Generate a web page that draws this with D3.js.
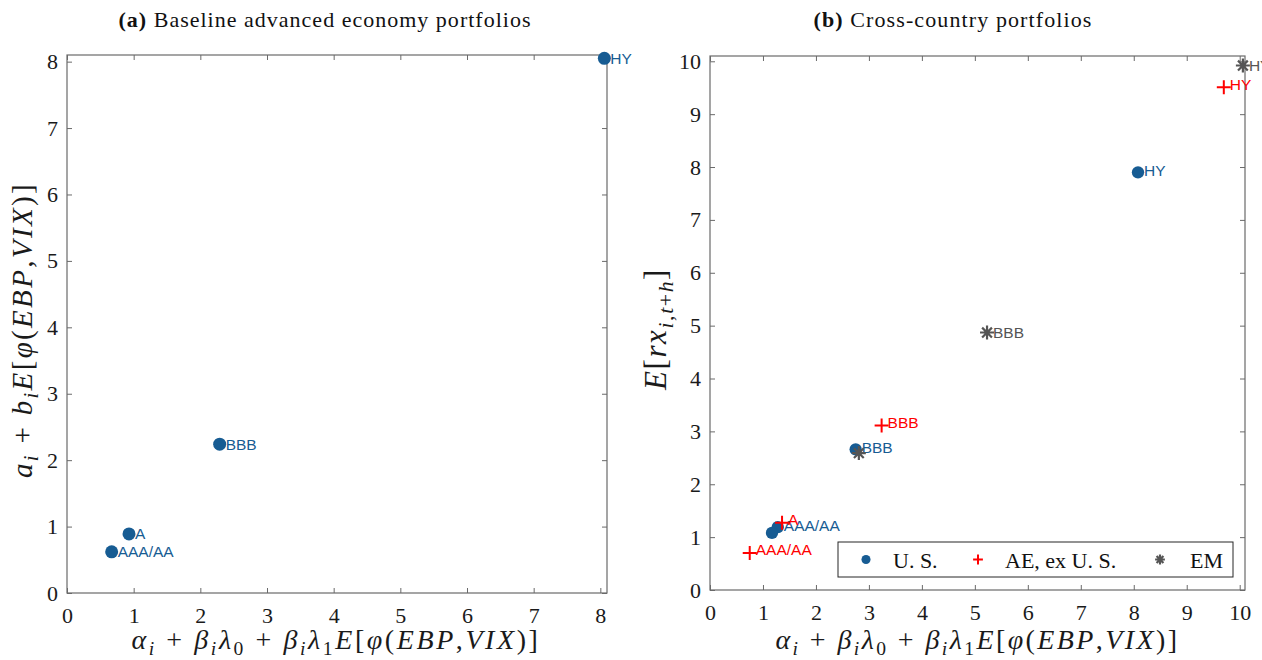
<!DOCTYPE html>
<html>
<head>
<meta charset="utf-8">
<script src="https://cdn.jsdelivr.net/npm/d3@7"></script>
<style>
  body { margin: 0; background: #fff; }
  svg { display: block; }
</style>
</head>
<body>
<div id="chart"></div>
<script>
// Panel (a): baseline advanced economy portfolios
const aLabels = ["AAA/AA", "A", "BBB", "HY"];
const aX = [0.67, 0.93, 2.29, 8.06];
const aY = [0.62, 0.89, 2.24, 8.05];

// Panel (b): cross-country portfolios
// (the U.S. "A" label sits under the AAA/AA dot in the original, so it is left empty)
const usLabels = ["AAA/AA", "", "BBB", "HY"];
const usX = [1.28, 1.17, 2.75, 8.08];
const usY = [1.19, 1.08, 2.66, 7.90];

const aeLabels = ["AAA/AA", "A", "BBB", "HY"];
const aeX = [0.75, 1.36, 3.24, 9.70];
const aeY = [0.70, 1.27, 3.11, 9.51];

const emLabels = ["", "BBB", "HY"];
const emX = [2.81, 5.23, 10.06];
const emY = [2.59, 4.87, 9.92];

const aTicks = [0, 1, 2, 3, 4, 5, 6, 7, 8];
const bTicks = [0, 1, 2, 3, 4, 5, 6, 7, 8, 9, 10];

const legendNames = ["U. S.", "AE, ex U. S.", "EM"];

const BLUE = "#175c93";
const RED = "#ff0000";
const GRAY = "#555555";
const SERIF = "'Liberation Serif', 'DejaVu Serif', serif";
const SANS = "'Liberation Sans', Arial, sans-serif";

const width = 1262;
const height = 660;

const svg = d3.select("#chart")
    .append("svg")
    .attr("width", width)
    .attr("height", height);

// marker drawing
function drawMarker(g, kind, color, scale) {
    const s = scale || 1;
    if (kind === "dot") {
        g.append("circle").attr("r", 6.5 * s).attr("fill", color);
    } else if (kind === "plus") {
        const a = 7 * s;
        g.append("path")
            .attr("d", `M${-a},0H${a}M0,${-a}V${a}`)
            .attr("stroke", color).attr("stroke-width", 2).attr("fill", "none");
    } else {
        const a = 7 * s, b = a * 0.7;
        g.append("path")
            .attr("d", `M${-a},0H${a}M0,${-a}V${a}M${-b},${-b}L${b},${b}M${-b},${b}L${b},${-b}`)
            .attr("stroke", color).attr("stroke-width", 2.2).attr("fill", "none");
    }
}

// math-ish text from parts: [string, kind], kind: i, r, si, sr (s = subscript)
function mathText(textSel, parts, size) {
    let shift = 0;
    parts.forEach(([str, kind]) => {
        const sub = kind.startsWith("s");
        const target = sub ? size * 0.22 : 0;
        textSel.append("tspan")
            .attr("dy", target - shift)
            .attr("font-size", sub ? size * 0.7 : size)
            .attr("font-style", kind.endsWith("i") ? "italic" : "normal")
            .text(str);
        shift = target;
    });
}

// stretch a text to the width it has in the original figure
function fitWidth(textSel, target) {
    const node = textSel.node();
    const len = node.getComputedTextLength();
    const n = node.textContent.length;
    if (n > 1) textSel.attr("letter-spacing", (target - len) / n);
}

function drawPanel(cfg) {
    const x = d3.scaleLinear().domain([0, cfg.max]).range([cfg.left, cfg.right]);
    const y = d3.scaleLinear().domain([0, cfg.max]).range([cfg.bottom, cfg.top]);
    const g = svg.append("g");

    // axes (box on, ticks inside)
    const axisColor = "#6a6a6a";
    const tickLen = 5;
    g.append("g")
        .attr("transform", `translate(0,${cfg.bottom})`)
        .call(d3.axisBottom(x).tickValues(cfg.ticks).tickSize(-tickLen).tickPadding(14).tickFormat(d3.format("d")));
    g.append("g")
        .attr("transform", `translate(0,${cfg.top})`)
        .call(d3.axisTop(x).tickValues(cfg.ticks).tickSize(-tickLen).tickFormat(""));
    g.append("g")
        .attr("transform", `translate(${cfg.left},0)`)
        .call(d3.axisLeft(y).tickValues(cfg.ticks).tickSize(-tickLen).tickPadding(9).tickFormat(d3.format("d")));
    g.append("g")
        .attr("transform", `translate(${cfg.right},0)`)
        .call(d3.axisRight(y).tickValues(cfg.ticks).tickSize(-tickLen).tickFormat(""));
    g.selectAll(".domain").remove();
    g.append("rect")
        .attr("x", cfg.left).attr("y", cfg.top)
        .attr("width", cfg.right - cfg.left).attr("height", cfg.bottom - cfg.top)
        .attr("fill", "none").attr("stroke", axisColor).attr("stroke-width", 1.2);
    g.selectAll(".tick line").attr("stroke", axisColor);
    g.selectAll(".tick text")
        .attr("font-family", SERIF).attr("font-size", 22).attr("fill", "#1a1a1a");

    // title
    const title = g.append("text")
        .attr("x", cfg.titleX).attr("y", 27)
        .attr("text-anchor", "middle")
        .attr("font-family", SERIF).attr("font-size", 22).attr("fill", "#111");
    title.append("tspan").attr("font-weight", "bold").text(cfg.tag);
    title.append("tspan").text(" " + cfg.title);
    fitWidth(title, cfg.titleW);

    // x label
    const xl = g.append("text")
        .attr("x", (cfg.left + cfg.right) / 2 + cfg.xLabelDx).attr("y", 649)
        .attr("text-anchor", "middle")
        .attr("font-family", SERIF).attr("fill", "#1a1a1a");
    mathText(xl, cfg.xLabel, 28);
    fitWidth(xl, cfg.xLabelW);

    // y label
    const yl = g.append("text")
        .attr("transform", `translate(${cfg.yLabelX},${cfg.yLabelY}) rotate(-90)`)
        .attr("text-anchor", "middle")
        .attr("font-family", SERIF).attr("fill", "#1a1a1a");
    mathText(yl, cfg.yLabel, cfg.yLabelSize);
    fitWidth(yl, cfg.yLabelW);

    // series
    cfg.series.forEach(s => {
        s.xs.forEach((xv, i) => {
            const px = x(xv), py = y(s.ys[i]);
            drawMarker(g.append("g").attr("transform", `translate(${px},${py})`), s.kind, s.color, s.size);
            if (s.labels[i]) {
                g.append("text")
                    .attr("x", px + 6).attr("y", py - s.lift)
                    .attr("dominant-baseline", "central")
                    .attr("font-family", SANS).attr("font-size", 15.5)
                    .attr("fill", s.color)
                    .text(s.labels[i]);
            }
        });
    });

    return { x, y, g };
}

const xLabelParts = [
    ["α", "i"], ["i", "si"], [" + ", "r"], ["β", "i"], ["i", "si"], ["λ", "i"], ["0", "sr"],
    [" + ", "r"], ["β", "i"], ["i", "si"], ["λ", "i"], ["1", "sr"], ["E", "i"], ["[", "r"],
    ["φ", "i"], ["(", "r"], ["EBP", "i"], [",", "r"], ["VIX", "i"], [")]", "r"]
];

drawPanel({
    left: 67, right: 607, top: 55, bottom: 593, max: 8.1,
    ticks: aTicks, tag: "(a)", title: "Baseline advanced economy portfolios",
    titleX: 325, titleW: 413,
    xLabel: xLabelParts, xLabelDx: -1, xLabelW: 409,
    yLabel: [["a", "i"], ["i", "si"], [" + ", "r"], ["b", "i"], ["i", "si"], ["E", "i"], ["[", "r"],
             ["φ", "i"], ["(", "r"], ["EBP", "i"], [",", "r"], ["VIX", "i"], [")]", "r"]],
    yLabelX: 32, yLabelY: 330, yLabelW: 296, yLabelSize: 29,
    series: [{ xs: aX, ys: aY, labels: aLabels, kind: "dot", color: BLUE, size: 1, lift: 0 }]
});

const pb = drawPanel({
    left: 710, right: 1245, top: 56, bottom: 590, max: 10.1,
    ticks: bTicks, tag: "(b)", title: "Cross-country portfolios",
    titleX: 953, titleW: 279,
    xLabel: xLabelParts, xLabelDx: 0, xLabelW: 404,
    yLabel: [["E", "i"], ["[", "r"], ["rx", "i"], ["i", "si"], [",", "sr"], ["t", "si"], ["+", "sr"], ["h", "si"], ["]", "r"]],
    yLabelX: 666, yLabelY: 329, yLabelW: 122, yLabelSize: 31,
    series: [
        { xs: usX, ys: usY, labels: usLabels, kind: "dot", color: BLUE, size: 0.95, lift: 2 },
        { xs: aeX, ys: aeY, labels: aeLabels, kind: "plus", color: RED, size: 1, lift: 3 },
        { xs: emX, ys: emY, labels: emLabels, kind: "star", color: GRAY, size: 1, lift: 0 }
    ]
});

// legend
const legW = 395, legH = 35;
const legX = 1245 - 12 - legW, legY = 590 - 13 - legH;
const leg = pb.g.append("g").attr("transform", `translate(${legX},${legY})`);
leg.append("rect").attr("width", legW).attr("height", legH)
    .attr("fill", "#fff").attr("stroke", "#262626").attr("stroke-width", 1);
const legKinds = [["dot", BLUE, 28, 55], ["plus", RED, 140, 167], ["star", GRAY, 322, 352]];
legKinds.forEach(([kind, color, mx, tx], i) => {
    drawMarker(leg.append("g").attr("transform", `translate(${mx},${legH / 2})`), kind, color, 0.7);
    leg.append("text")
        .attr("x", tx).attr("y", legH / 2 + 1)
        .attr("dominant-baseline", "central")
        .attr("font-family", SERIF).attr("font-size", 22).attr("fill", "#111")
        .text(legendNames[i]);
});
</script>
</body>
</html>
